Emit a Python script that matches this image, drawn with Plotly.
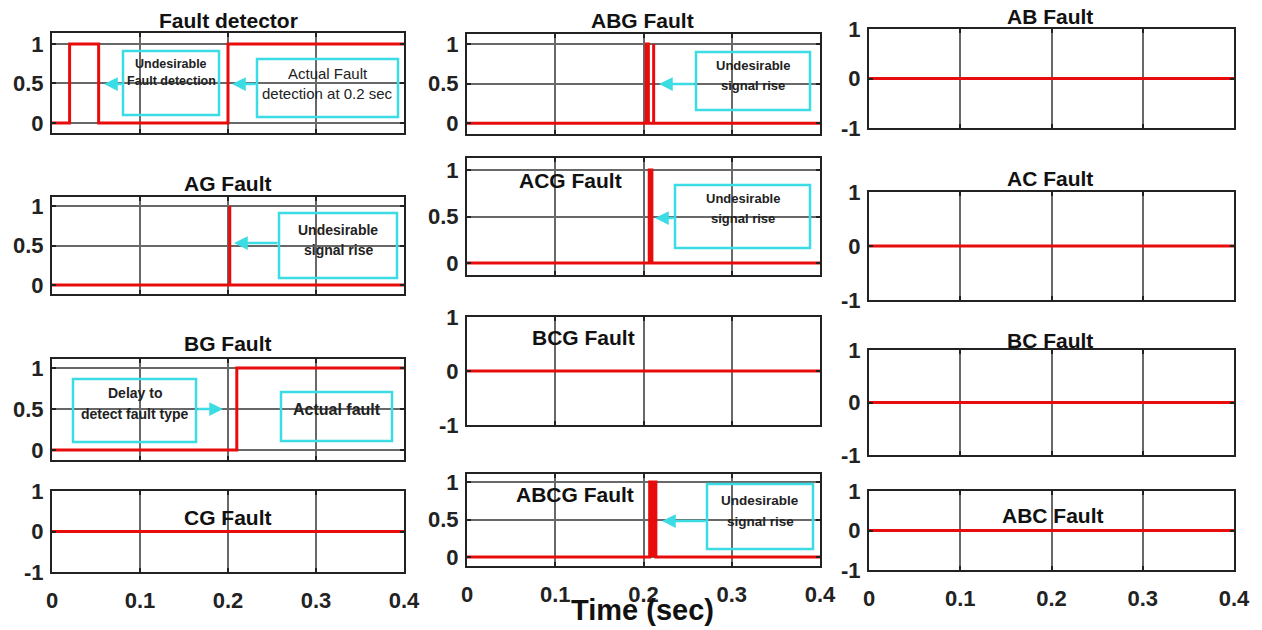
import plotly.graph_objects as go

W, H = 1262, 630

# ---------------- data ----------------
x_ticks = [0, 0.1, 0.2, 0.3, 0.4]
x_tick_labels = ["0", "0.1", "0.2", "0.3", "0.4"]

time_fault_detector = [0, 0.020, 0.020, 0.053, 0.053, 0.200, 0.200, 0.4]
sig_fault_detector = [0, 0, 1, 1, 0, 0, 1, 1]

time_ag = [0, 0.202, 0.202, 0.202, 0.4]
sig_ag = [0, 0, 1, 0, 0]

time_bg = [0, 0.21, 0.21, 0.4]
sig_bg = [0, 0, 1, 1]

time_cg = [0, 0.4]
sig_cg = [0, 0]

time_abg = [0, 0.203, 0.203, 0.2055, 0.2055, 0.2115, 0.2115, 0.2115, 0.4]
sig_abg = [0, 0, 1, 1, 0, 0, 1, 0, 0]

time_acg = [0, 0.2065, 0.2065, 0.2095, 0.2095, 0.4]
sig_acg = [0, 0, 1, 1, 0, 0]

time_bcg = [0, 0.4]
sig_bcg = [0, 0]

time_abcg = [0, 0.207, 0.207, 0.214, 0.214, 0.4]
sig_abcg = [0, 0, 1, 1, 0, 0]

time_ab = [0, 0.4]
sig_ab = [0, 0]
time_ac = [0, 0.4]
sig_ac = [0, 0]
time_bc = [0, 0.4]
sig_bc = [0, 0]
time_abc = [0, 0.4]
sig_abc = [0, 0]

# ---------------- layout helpers ----------------
FONT = "Liberation Sans, Arial, sans-serif"
RED = "#E80C0C"
CYAN = "#3CDCE4"
GRID = "#686868"

def xp(px):
    return px / W

def yp(py):
    return 1 - py / H

cols_px = [(52, 404), (467, 820), (869, 1234)]
rows_px = [
    [(33, 133), (197, 294), (359, 460), (491, 572)],
    [(34, 134), (158, 275), (317, 425), (474, 566)],
    [(29, 128), (192, 300), (350, 455), (491, 570)],
]

unit_ticks = ([0, 0.5, 1], ["0", "0.5", "1"])
sym_ticks = ([-1, 0, 1], ["-1", "0", "1"])

panels = [
    # (col, row, time, sig, yrange, ticks, fill)
    (0, 0, time_fault_detector, sig_fault_detector, [-0.127, 1.139], unit_ticks, False),
    (0, 1, time_ag, sig_ag, [-0.114, 1.114], unit_ticks, False),
    (0, 2, time_bg, sig_bg, [-0.122, 1.11], unit_ticks, False),
    (0, 3, time_cg, sig_cg, [-1, 1], sym_ticks, False),
    (1, 0, time_abg, sig_abg, [-0.135, 1.127], unit_ticks, True),
    (1, 1, time_acg, sig_acg, [-0.129, 1.129], unit_ticks, True),
    (1, 2, time_bcg, sig_bcg, [-1, 1], sym_ticks, False),
    (1, 3, time_abcg, sig_abcg, [-0.12, 1.107], unit_ticks, True),
    (2, 0, time_ab, sig_ab, [-1, 1], sym_ticks, False),
    (2, 1, time_ac, sig_ac, [-1, 1], sym_ticks, False),
    (2, 2, time_bc, sig_bc, [-1, 1], sym_ticks, False),
    (2, 3, time_abc, sig_abc, [-1, 1], sym_ticks, False),
]

TICKFONT = dict(family=FONT, size=22, color="#222", weight="bold")

fig = go.Figure()
layout = {}
for i, (c, r, t, s, yr, (tv, tt), fill) in enumerate(panels):
    n = i + 1
    xa = "xaxis" if n == 1 else f"xaxis{n}"
    ya = "yaxis" if n == 1 else f"yaxis{n}"
    xr = "x" if n == 1 else f"x{n}"
    yr_ref = "y" if n == 1 else f"y{n}"
    x0, x1 = cols_px[c]
    top, bot = rows_px[c][r]
    fig.add_trace(go.Scatter(
        x=t, y=s, mode="lines", line=dict(color=RED, width=3),
        fill="tozeroy" if fill else None, fillcolor=RED,
        xaxis=xr, yaxis=yr_ref, showlegend=False, hoverinfo="skip"))
    layout[xa] = dict(
        domain=[xp(x0), xp(x1)], anchor=yr_ref, range=[0, 0.4],
        tickvals=x_ticks, ticktext=x_tick_labels, showticklabels=(r == 3),
        showgrid=True, gridcolor=GRID, gridwidth=2, zeroline=False,
        showline=True, linecolor="#222", linewidth=2, mirror="ticks",
        ticks="inside", ticklen=4, tickcolor="#222", tickwidth=2,
        tickfont=TICKFONT, automargin=False,
        ticklabelstandoff=8, fixedrange=True)
    layout[ya] = dict(
        domain=[yp(bot), yp(top)], anchor=xr, range=yr,
        tickvals=tv, ticktext=tt,
        showgrid=True, gridcolor=GRID, gridwidth=2, zeroline=False,
        showline=True, linecolor="#222", linewidth=2, mirror="ticks",
        ticks="inside", ticklen=4, tickcolor="#222", tickwidth=2,
        tickfont=TICKFONT, automargin=False,
        ticklabelstandoff=2, fixedrange=True)

annotations = []
shapes = []

def title(text, cx, cy, size=21):
    annotations.append(dict(
        text=text, x=xp(cx), y=yp(cy), xref="paper", yref="paper",
        showarrow=False, xanchor="center", yanchor="middle",
        font=dict(family=FONT, size=size, color="#111", weight="bold")))

title("Fault detector", 228, 20)
title("ABG Fault", 643, 20)
title("AB Fault", 1050, 16)
title("AG Fault", 228, 183)
title("ACG Fault", 570, 180)
title("AC Fault", 1050, 178)
title("BG Fault", 228, 344)
title("BCG Fault", 583, 337)
title("BC Fault", 1050, 340)
title("CG Fault", 228, 517)
title("ABCG Fault", 575, 494)
title("ABC Fault", 1053, 515)

annotations.append(dict(
    text="Time (sec)", x=xp(642), y=yp(610), xref="paper", yref="paper",
    showarrow=False, xanchor="center", yanchor="middle",
    font=dict(family=FONT, size=29, color="#111", weight="bold")))

def box(x0, y0, x1, y1, lines, ys, size=13, bold=True):
    shapes.append(dict(type="rect", xref="paper", yref="paper",
                       x0=xp(x0), x1=xp(x1), y0=yp(y1), y1=yp(y0),
                       line=dict(color=CYAN, width=2.5)))
    cx = (x0 + x1) / 2
    for txt, yy in zip(lines, ys):
        annotations.append(dict(
            text=txt, x=xp(cx), y=yp(yy), xref="paper", yref="paper",
            showarrow=False, xanchor="center", yanchor="middle",
            font=dict(family=FONT, size=size, color="#222",
                      weight="bold" if bold else "normal")))

def arrow(tx, ty, hx, hy):
    annotations.append(dict(
        text="", x=xp(hx), y=yp(hy), xref="paper", yref="paper",
        ax=tx - hx, ay=ty - hy, axref="pixel", ayref="pixel",
        showarrow=True, arrowhead=2, arrowsize=1.1, arrowwidth=2.5,
        arrowcolor=CYAN, standoff=0, startstandoff=0))

# Fault detector
box(123, 51, 219, 115, ["Undesirable", "Fault detection"], [64, 81], size=12.5)
arrow(123, 84, 104, 84)
box(257, 59, 398, 117, ["Actual Fault", "detection at 0.2 sec"], [73, 93], size=15, bold=False)
arrow(257, 84, 232, 84)
# ABG
box(696, 52, 810, 110, ["Undesirable", "signal rise"], [66, 86], size=13)
arrow(696, 84, 659, 84)
# AG
box(279, 213, 397, 278, ["Undesirable", "signal rise"], [230, 250], size=14)
arrow(279, 243, 234, 243)
# ACG
box(675, 185, 810, 248, ["Undesirable", "signal rise"], [198, 218], size=13)
arrow(675, 218, 655, 218)
# BG
box(73, 379, 196, 442, ["Delay to", "detect fault type"], [393, 414], size=14)
arrow(196, 409, 223, 409)
box(281, 392, 392, 441, ["Actual fault"], [409], size=16)
# ABCG
box(707, 484, 813, 549, ["Undesirable", "signal rise"], [500, 521], size=13.5)
arrow(707, 521, 662, 521)

fig.update_layout(
    width=W, height=H, margin=dict(l=0, r=0, t=0, b=0),
    paper_bgcolor="white", plot_bgcolor="white",
    annotations=annotations, shapes=shapes, **layout)

fig.write_html("out.html")
